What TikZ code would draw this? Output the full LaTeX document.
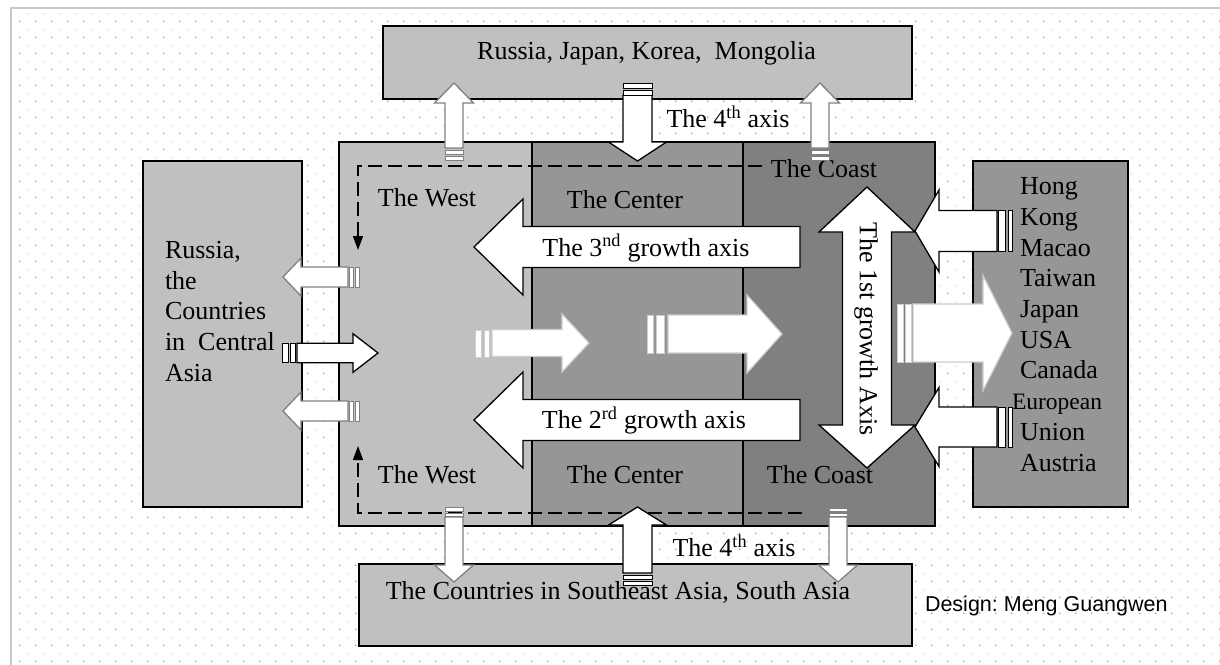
\documentclass[tikz,border=0pt]{standalone}
\usepackage{fontspec}
\setmainfont{Liberation Serif}
\newfontfamily\designfont{Liberation Sans}
\usetikzlibrary{patterns.meta,arrows.meta}
\frenchspacing

\definecolor{boxlight}{RGB}{192,192,192}
\definecolor{boxmid}{RGB}{150,150,150}
\definecolor{boxdark}{RGB}{128,128,128}
\definecolor{outgray}{RGB}{128,128,128}
\definecolor{softgray}{RGB}{205,205,205}
\definecolor{framegray}{RGB}{200,200,200}
\definecolor{dotdark}{RGB}{160,160,160}
\definecolor{dotlight}{RGB}{195,195,195}

\tikzdeclarepattern{
  name=bgdots,
  type=colored,
  bottom left={(0pt,0pt)},
  top right={(16pt,16pt)},
  tile size={(16pt,16pt)},
  code={
    \fill[dotdark] (4pt,4pt) circle (0.85pt);
    \fill[dotlight] (11.3pt,11.6pt) rectangle (12.7pt,12.4pt);
  }
}

% [style]{tail x}{head base x}{tip x}{y}{body half}{head half}
\newcommand{\HArrow}[7][]{%
  \draw[#1] (#2,{#5-#6}) -- (#3,{#5-#6}) -- (#3,{#5-#7}) -- (#4,#5) -- (#3,{#5+#7}) -- (#3,{#5+#6}) -- (#2,{#5+#6}) -- cycle;}
% [style]{tail y}{head base y}{tip y}{x}{body half}{head half}
\newcommand{\VArrow}[7][]{%
  \draw[#1] ({#5-#6},#2) -- ({#5-#6},#3) -- ({#5-#7},#3) -- (#5,#4) -- ({#5+#7},#3) -- ({#5+#6},#3) -- ({#5+#6},#2) -- cycle;}

\tikzset{
  every node/.style={inner sep=0pt, outer sep=0pt},
  lbl/.style={font=\fontsize{26}{30.7}\selectfont},
  boxstyle/.style={draw=black, line width=1.5pt, anchor=north west},
  inarrow/.style={draw=black, fill=white, line width=1.3pt},
  outarrow/.style={draw=outgray, fill=white, line width=1.3pt},
  softarrow/.style={draw=softgray, fill=white, line width=1.2pt},
  dashline/.style={draw=black, line width=1.2pt, dash pattern=on 14pt off 6pt,
                   -{Triangle[length=14pt,width=10pt]}},
}

\begin{document}
\begin{tikzpicture}[x=1pt,y=-1pt]
\useasboundingbox (0,0) rectangle (1220,664);
% background
\fill[white] (0,0) rectangle (1220,664);
\fill[pattern=bgdots] (11,8) rectangle (1220,664);
\draw[framegray, line width=1.5pt] (1225,8) -- (11,8) -- (11,670);

% outer boxes
\node[boxstyle, fill=boxlight, minimum width=529pt, minimum height=73pt] (topbox) at (383,26) {};
\node[boxstyle, fill=boxlight, minimum width=159pt, minimum height=346pt] (leftbox) at (143,161) {};
\node[boxstyle, fill=boxmid, minimum width=155pt, minimum height=346pt] (rightbox) at (973,161) {};
\node[boxstyle, fill=boxlight, minimum width=553pt, minimum height=82pt] (bottombox) at (359,564) {};

% main regions
\node[boxstyle, fill=boxlight, minimum width=193pt, minimum height=384pt] (west) at (339,142) {};
\node[boxstyle, fill=boxmid, minimum width=211pt, minimum height=384pt] (center) at (532,142) {};
\node[boxstyle, fill=boxdark, minimum width=192pt, minimum height=384pt] (coast) at (743,142) {};

% dashed routes
\coordinate (dA) at (762,166);
\coordinate (dB) at (358,166);
\coordinate (dC) at (358,250);
\coordinate (dD) at (802,513);
\coordinate (dE) at (358,513);
\coordinate (dF) at (358,446);
\draw[dashline] (dA) -- (dB) -- (dC);
\draw[dashline] (dD) -- (dE) -- (dF);

% region labels
\node[lbl] (westT) at (427,198) {The West};
\node[lbl] (centerT) at (625,200) {The Center};
\node[lbl] (coastT) at (824,169) {The Coast};
\node[lbl] (westB) at (427,475) {The West};
\node[lbl] (centerB) at (625,475) {The Center};
\node[lbl] (coastB) at (820,475) {The Coast};

% ---- top arrows
\VArrow[outarrow]{148}{103}{83}{454}{9}{19.5}
\draw[outarrow, line width=1pt] (445,150) rectangle (463,154);
\draw[outarrow, line width=1pt] (445,156) rectangle (463,160);
\VArrow[inarrow]{95}{142}{161}{637.5}{14.5}{29}
\draw[inarrow, line width=1pt] (623,83) rectangle (652,88);
\draw[inarrow, line width=1pt] (623,90) rectangle (652,95);
\VArrow[outarrow]{148}{103}{83}{820}{9}{19.5}
\draw[outarrow, line width=1pt] (811,150) rectangle (829,154);
\draw[outarrow, line width=1pt] (811,156) rectangle (829,160);

% ---- bottom arrows
\VArrow[outarrow]{517}{565}{582}{454}{9}{19.5}
\draw[outarrow, line width=1pt] (445,507) rectangle (463,511);
\draw[outarrow, line width=1pt] (445,513) rectangle (463,516);
\VArrow[inarrow]{573}{525}{507}{637.5}{14.5}{29}
\draw[inarrow, line width=1pt] (623,575) rectangle (652,579);
\draw[inarrow, line width=1pt] (623,581) rectangle (652,585);
\VArrow[outarrow]{517}{565}{582}{838}{9}{19.5}
\draw[outarrow, line width=1pt] (829,508) rectangle (847,511);
\draw[outarrow, line width=1pt] (829,513) rectangle (847,516);

% ---- left arrows
\HArrow[outarrow]{348}{301}{283}{277}{10}{19}
\draw[outarrow, line width=1pt] (349.5,267) rectangle (353.5,287);
\draw[outarrow, line width=1pt] (355.5,267) rectangle (359,287);
\HArrow[inarrow]{297}{353}{378}{353}{9.7}{19.3}
\draw[inarrow, line width=1pt] (282,343.3) rectangle (288,362.7);
\draw[inarrow, line width=1pt] (290,343.3) rectangle (295,362.7);
\HArrow[outarrow]{348}{301}{283}{411}{10}{19}
\draw[outarrow, line width=1pt] (349.5,401) rectangle (353.5,421);
\draw[outarrow, line width=1pt] (355.5,401) rectangle (359,421);

% ---- right arrows
\HArrow[inarrow]{997}{939}{915}{231}{20.5}{41}
\draw[inarrow, line width=1pt] (998,210.5) rectangle (1005,251.5);
\draw[inarrow, line width=1pt] (1008,210.5) rectangle (1012,251.5);
\HArrow[inarrow]{997}{939}{915}{427}{20}{39.5}
\draw[inarrow, line width=1pt] (998,407) rectangle (1005,447);
\draw[inarrow, line width=1pt] (1008,407) rectangle (1012,447);
\HArrow[softarrow]{913}{983}{1012}{333}{29}{57.5}
\draw[softarrow, line width=1pt] (897,304) rectangle (903,362);
\draw[softarrow, line width=1pt] (905,304) rectangle (911,362);

% ---- middle arrows
\HArrow[softarrow]{492}{562}{589}{343}{13.5}{29}
\draw[softarrow, line width=1pt] (475,330) rectangle (481,357);
\draw[softarrow, line width=1pt] (484,330) rectangle (489,357);
\HArrow[softarrow]{668}{747}{782}{334}{19}{39}
\draw[softarrow, line width=1pt] (647,315) rectangle (653,353);
\draw[softarrow, line width=1pt] (656,315) rectangle (664,353);

% ---- growth axes
\HArrow[inarrow]{800}{523}{474}{247}{20.5}{48}
\HArrow[inarrow]{800}{523}{474}{420}{20.5}{48}
\draw[inarrow] (867,187) -- (915,232) -- (891.5,232) -- (891.5,425) -- (915,425)
  -- (867,468) -- (819,425) -- (842.5,425) -- (842.5,232) -- (819,232) -- cycle;

% ---- texts
\node[lbl] (toptxt) at (646.5,53) {Russia, Japan, Korea,\ \ Mongolia};
\node[lbl] (bottxt) at (618,592) {The Countries in Southeast Asia, South Asia};
\node[lbl, align=left, anchor=west] (lefttxt) at (165,311.5)
  {Russia,\\the\\Countries\\in\ \ Central\\Asia};
\node[lbl, align=left, anchor=west] (righttxt) at (1020,324.5)
  {Hong\\Kong\\Macao\\Taiwan\\Japan\\USA\\Canada\\\hspace*{-8pt}{\fontsize{23.5}{30.7}\selectfont European}\\Union\\Austria};
\node[lbl] (ax4top) at (728,117) {The 4\textsuperscript{th} axis};
\node[lbl] (ax4bot) at (734,546) {The 4\textsuperscript{th} axis};
\node[lbl] (ax3) at (646,248) {The 3\textsuperscript{nd} growth axis};
\node[lbl] (ax2) at (644,420) {The 2\textsuperscript{rd} growth axis};
\node[lbl, rotate=-90] (ax1) at (866,329) {The 1st growth Axis};
\node[font=\designfont\fontsize{21.5}{26}\selectfont, anchor=west] (design) at (925,606) {Design: Meng Guangwen};
\end{tikzpicture}
\end{document}
